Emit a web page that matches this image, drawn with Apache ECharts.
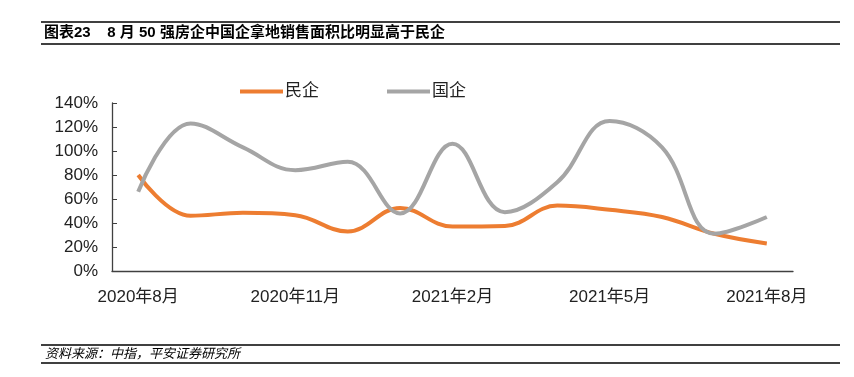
<!DOCTYPE html>
<html>
<head>
<meta charset="utf-8">
<script src="https://cdn.jsdelivr.net/npm/echarts@6/dist/echarts.min.js"></script>
<style>
  html, body { margin: 0; padding: 0; background: #fff; }
  #chart { width: 854px; height: 377px; }
</style>
</head>
<body>
<div id="chart"></div>
<script>
  // 月份
  var months = ['2020年8月', '2020年9月', '2020年10月', '2020年11月', '2020年12月', '2021年1月',
    '2021年2月', '2021年3月', '2021年4月', '2021年5月', '2021年6月', '2021年7月', '2021年8月'];
  // 民企、国企 拿地销售面积比 (%)
  var privateVals = [80, 46, 48.5, 46.5, 33, 52.5, 37, 37.5, 54.5, 51, 45, 31, 23];
  var stateVals = [66, 123, 103, 84, 91, 48, 106, 49, 74, 125, 103, 31, 45];
  var yTicks = [0, 20, 40, 60, 80, 100, 120, 140];

  var title = '图表23    8 月 50 强房企中国企拿地销售面积比明显高于民企';
  var source = '资料来源：中指，平安证券研究所';

  var chart = echarts.init(document.getElementById('chart'));
  chart.setOption({
    animation: false,
    textStyle: { fontFamily: 'Arial, "Liberation Sans", "Noto Sans CJK SC"' },
    graphic: [
      { type: 'line', shape: { x1: 41, y1: 22, x2: 840, y2: 22 }, style: { stroke: '#000', lineWidth: 1.5 } },
      { type: 'line', shape: { x1: 41, y1: 44, x2: 840, y2: 44 }, style: { stroke: '#000', lineWidth: 1.5 } },
      { type: 'text', left: 44, top: 25, style: { text: title, fill: '#000', font: 'bold 15px "Liberation Sans", "Noto Sans CJK SC"' } },
      { type: 'line', shape: { x1: 41, y1: 345, x2: 840, y2: 345 }, style: { stroke: '#000', lineWidth: 1.5 } },
      { type: 'line', shape: { x1: 41, y1: 363, x2: 840, y2: 363 }, style: { stroke: '#000', lineWidth: 1.5 } },
      { type: 'text', left: 45, top: 347, style: { text: source, fill: '#000', font: 'italic 13px "Noto Sans CJK SC"' } }
    ],
    legend: {
      top: 78,
      left: 235,
      itemWidth: 43,
      itemHeight: 4,
      itemGap: 68,
      icon: 'rect',
      textStyle: { fontSize: 17, color: '#222', padding: [0, 0, 0, -3] },
      data: ['民企', '国企']
    },
    grid: { left: 112, right: 61, top: 103, bottom: 106 },
    xAxis: {
      type: 'category',
      data: months,
      boundaryGap: true,
      axisLine: { lineStyle: { color: '#404040', width: 1.3 } },
      axisTick: { inside: true, length: 4, interval: 2, lineStyle: { color: '#404040' } },
      axisLabel: { interval: 2, fontSize: 17, color: '#222', margin: 18 }
    },
    yAxis: {
      type: 'value',
      min: yTicks[0],
      max: yTicks[yTicks.length - 1],
      interval: 20,
      splitLine: { show: false },
      axisLine: { show: true, lineStyle: { color: '#404040', width: 1.3 } },
      axisTick: { show: true, inside: true, length: 5, lineStyle: { color: '#404040' } },
      axisLabel: { formatter: '{value}%', fontSize: 17, color: '#222', margin: 14 }
    },
    series: [
      {
        name: '民企',
        type: 'line',
        data: privateVals,
        smooth: 0.4,
        showSymbol: false,
        lineStyle: { color: '#ED7D31', width: 4 },
        itemStyle: { color: '#ED7D31' }
      },
      {
        name: '国企',
        type: 'line',
        data: stateVals,
        smooth: 0.4,
        showSymbol: false,
        lineStyle: { color: '#A5A5A5', width: 4 },
        itemStyle: { color: '#A5A5A5' }
      }
    ]
  });
</script>
</body>
</html>
